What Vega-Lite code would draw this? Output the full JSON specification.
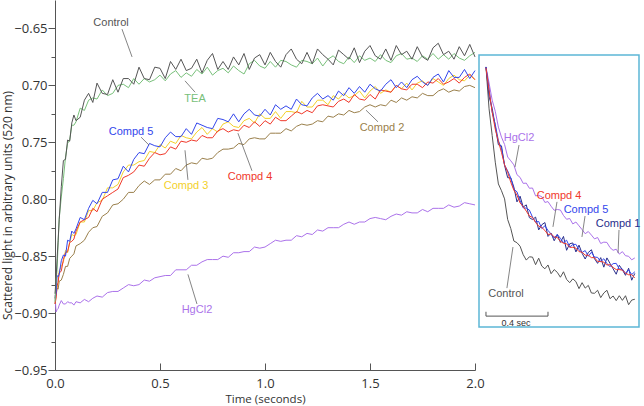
{
  "$schema": "https://vega.github.io/schema/vega-lite/v6.json",
  "width": 584,
  "height": 370,
  "autosize": {"type": "none"},
  "padding": {"left": 55, "top": 0, "right": 5, "bottom": 36},
  "background": "white",
  "config": {"view": {"stroke": null}, "axis": {"grid": false}},
  "datasets": {
    "main": [
      {"t":0,"C":-0.883,"T":-0.890,"P5":-0.887,"P3":-0.887,"P4":-0.892,"P2":-0.892,"Hg":-0.884},
      {"t":0.005,"C":-0.870,"T":-0.871,"P5":-0.883,"P3":-0.881,"P4":-0.887,"P2":-0.884,"Hg":-0.899},
      {"t":0.01,"C":-0.852,"T":-0.862,"P5":-0.867,"P3":-0.877,"P4":-0.876,"P2":-0.878,"Hg":-0.897},
      {"t":0.015,"C":-0.836,"T":-0.838,"P5":-0.868,"P3":-0.873,"P4":-0.873,"P2":-0.879,"Hg":-0.896},
      {"t":0.02,"C":-0.818,"T":-0.817,"P5":-0.866,"P3":-0.863,"P4":-0.865,"P2":-0.872,"Hg":-0.893},
      {"t":0.03,"C":-0.789,"T":-0.798,"P5":-0.854,"P3":-0.859,"P4":-0.863,"P2":-0.871,"Hg":-0.889},
      {"t":0.04,"C":-0.766,"T":-0.782,"P5":-0.849,"P3":-0.855,"P4":-0.853,"P2":-0.866,"Hg":-0.892},
      {"t":0.05,"C":-0.765,"T":-0.763,"P5":-0.850,"P3":-0.845,"P4":-0.847,"P2":-0.859,"Hg":-0.892},
      {"t":0.06,"C":-0.748,"T":-0.751,"P5":-0.836,"P3":-0.847,"P4":-0.846,"P2":-0.859,"Hg":-0.890},
      {"t":0.07,"C":-0.749,"T":-0.748,"P5":-0.837,"P3":-0.838,"P4":-0.838,"P2":-0.852,"Hg":-0.891},
      {"t":0.08,"C":-0.733,"T":-0.735,"P5":-0.828,"P3":-0.831,"P4":-0.837,"P2":-0.850,"Hg":-0.891},
      {"t":0.09,"C":-0.726,"T":-0.735,"P5":-0.830,"P3":-0.832,"P4":-0.835,"P2":-0.848,"Hg":-0.893},
      {"t":0.1,"C":-0.731,"T":-0.732,"P5":-0.826,"P3":-0.831,"P4":-0.828,"P2":-0.841,"Hg":-0.890},
      {"t":0.12,"C":-0.728,"T":-0.720,"P5":-0.816,"P3":-0.820,"P4":-0.820,"P2":-0.839,"Hg":-0.891},
      {"t":0.14,"C":-0.713,"T":-0.722,"P5":-0.818,"P3":-0.820,"P4":-0.818,"P2":-0.836,"Hg":-0.888},
      {"t":0.16,"C":-0.707,"T":-0.713,"P5":-0.808,"P3":-0.810,"P4":-0.816,"P2":-0.829,"Hg":-0.890},
      {"t":0.18,"C":-0.715,"T":-0.711,"P5":-0.801,"P3":-0.810,"P4":-0.808,"P2":-0.825,"Hg":-0.887},
      {"t":0.2,"C":-0.698,"T":-0.712,"P5":-0.804,"P3":-0.803,"P4":-0.811,"P2":-0.824,"Hg":-0.885},
      {"t":0.225,"C":-0.707,"T":-0.704,"P5":-0.794,"P3":-0.801,"P4":-0.800,"P2":-0.815,"Hg":-0.886},
      {"t":0.25,"C":-0.708,"T":-0.709,"P5":-0.794,"P3":-0.790,"P4":-0.797,"P2":-0.812,"Hg":-0.882},
      {"t":0.275,"C":-0.695,"T":-0.707,"P5":-0.783,"P3":-0.790,"P4":-0.794,"P2":-0.805,"Hg":-0.881},
      {"t":0.3,"C":-0.706,"T":-0.700,"P5":-0.782,"P3":-0.787,"P4":-0.791,"P2":-0.804,"Hg":-0.881},
      {"t":0.325,"C":-0.694,"T":-0.699,"P5":-0.771,"P3":-0.776,"P4":-0.781,"P2":-0.800,"Hg":-0.878},
      {"t":0.35,"C":-0.694,"T":-0.702,"P5":-0.776,"P3":-0.770,"P4":-0.779,"P2":-0.794,"Hg":-0.875},
      {"t":0.375,"C":-0.699,"T":-0.694,"P5":-0.765,"P3":-0.770,"P4":-0.776,"P2":-0.794,"Hg":-0.876},
      {"t":0.4,"C":-0.684,"T":-0.699,"P5":-0.759,"P3":-0.767,"P4":-0.770,"P2":-0.788,"Hg":-0.875},
      {"t":0.425,"C":-0.694,"T":-0.694,"P5":-0.760,"P3":-0.766,"P4":-0.771,"P2":-0.784,"Hg":-0.871},
      {"t":0.45,"C":-0.695,"T":-0.697,"P5":-0.751,"P3":-0.758,"P4":-0.764,"P2":-0.787,"Hg":-0.872},
      {"t":0.475,"C":-0.684,"T":-0.695,"P5":-0.753,"P3":-0.759,"P4":-0.759,"P2":-0.783,"Hg":-0.869},
      {"t":0.5,"C":-0.685,"T":-0.691,"P5":-0.754,"P3":-0.752,"P4":-0.761,"P2":-0.783,"Hg":-0.868},
      {"t":0.525,"C":-0.694,"T":-0.696,"P5":-0.746,"P3":-0.755,"P4":-0.760,"P2":-0.778,"Hg":-0.867},
      {"t":0.55,"C":-0.679,"T":-0.690,"P5":-0.741,"P3":-0.749,"P4":-0.754,"P2":-0.778,"Hg":-0.867},
      {"t":0.575,"C":-0.686,"T":-0.687,"P5":-0.745,"P3":-0.751,"P4":-0.756,"P2":-0.773,"Hg":-0.862},
      {"t":0.6,"C":-0.677,"T":-0.693,"P5":-0.745,"P3":-0.744,"P4":-0.749,"P2":-0.775,"Hg":-0.862},
      {"t":0.625,"C":-0.687,"T":-0.689,"P5":-0.738,"P3":-0.746,"P4":-0.750,"P2":-0.770,"Hg":-0.862},
      {"t":0.65,"C":-0.685,"T":-0.692,"P5":-0.743,"P3":-0.747,"P4":-0.748,"P2":-0.768,"Hg":-0.858},
      {"t":0.675,"C":-0.677,"T":-0.686,"P5":-0.733,"P3":-0.741,"P4":-0.749,"P2":-0.769,"Hg":-0.858},
      {"t":0.7,"C":-0.689,"T":-0.690,"P5":-0.735,"P3":-0.737,"P4":-0.744,"P2":-0.764,"Hg":-0.855},
      {"t":0.725,"C":-0.678,"T":-0.684,"P5":-0.737,"P3":-0.743,"P4":-0.746,"P2":-0.765,"Hg":-0.853},
      {"t":0.75,"C":-0.672,"T":-0.691,"P5":-0.738,"P3":-0.738,"P4":-0.746,"P2":-0.764,"Hg":-0.853},
      {"t":0.775,"C":-0.686,"T":-0.687,"P5":-0.729,"P3":-0.741,"P4":-0.740,"P2":-0.759,"Hg":-0.853},
      {"t":0.8,"C":-0.679,"T":-0.685,"P5":-0.730,"P3":-0.734,"P4":-0.738,"P2":-0.756,"Hg":-0.850},
      {"t":0.825,"C":-0.686,"T":-0.689,"P5":-0.732,"P3":-0.732,"P4":-0.741,"P2":-0.756,"Hg":-0.851},
      {"t":0.85,"C":-0.675,"T":-0.683,"P5":-0.725,"P3":-0.736,"P4":-0.739,"P2":-0.755,"Hg":-0.847},
      {"t":0.875,"C":-0.682,"T":-0.687,"P5":-0.732,"P3":-0.737,"P4":-0.740,"P2":-0.751,"Hg":-0.847},
      {"t":0.9,"C":-0.672,"T":-0.690,"P5":-0.725,"P3":-0.731,"P4":-0.735,"P2":-0.752,"Hg":-0.846},
      {"t":0.925,"C":-0.686,"T":-0.681,"P5":-0.721,"P3":-0.729,"P4":-0.737,"P2":-0.747,"Hg":-0.846},
      {"t":0.95,"C":-0.676,"T":-0.678,"P5":-0.726,"P3":-0.733,"P4":-0.732,"P2":-0.746,"Hg":-0.842},
      {"t":0.975,"C":-0.673,"T":-0.683,"P5":-0.727,"P3":-0.725,"P4":-0.736,"P2":-0.747,"Hg":-0.843},
      {"t":1.0,"C":-0.682,"T":-0.685,"P5":-0.721,"P3":-0.729,"P4":-0.731,"P2":-0.747,"Hg":-0.842},
      {"t":1.025,"C":-0.671,"T":-0.679,"P5":-0.726,"P3":-0.729,"P4":-0.734,"P2":-0.742,"Hg":-0.839},
      {"t":1.05,"C":-0.679,"T":-0.684,"P5":-0.717,"P3":-0.723,"P4":-0.728,"P2":-0.742,"Hg":-0.836},
      {"t":1.075,"C":-0.684,"T":-0.678,"P5":-0.721,"P3":-0.729,"P4":-0.731,"P2":-0.742,"Hg":-0.837},
      {"t":1.1,"C":-0.673,"T":-0.679,"P5":-0.718,"P3":-0.723,"P4":-0.731,"P2":-0.738,"Hg":-0.836},
      {"t":1.125,"C":-0.668,"T":-0.682,"P5":-0.721,"P3":-0.723,"P4":-0.727,"P2":-0.740,"Hg":-0.836},
      {"t":1.15,"C":-0.677,"T":-0.684,"P5":-0.712,"P3":-0.724,"P4":-0.723,"P2":-0.736,"Hg":-0.832},
      {"t":1.175,"C":-0.681,"T":-0.678,"P5":-0.717,"P3":-0.714,"P4":-0.725,"P2":-0.734,"Hg":-0.833},
      {"t":1.2,"C":-0.671,"T":-0.679,"P5":-0.718,"P3":-0.719,"P4":-0.722,"P2":-0.735,"Hg":-0.830},
      {"t":1.225,"C":-0.681,"T":-0.681,"P5":-0.711,"P3":-0.719,"P4":-0.724,"P2":-0.734,"Hg":-0.831},
      {"t":1.25,"C":-0.668,"T":-0.676,"P5":-0.707,"P3":-0.713,"P4":-0.718,"P2":-0.731,"Hg":-0.827},
      {"t":1.275,"C":-0.673,"T":-0.683,"P5":-0.712,"P3":-0.713,"P4":-0.717,"P2":-0.732,"Hg":-0.828},
      {"t":1.3,"C":-0.677,"T":-0.677,"P5":-0.709,"P3":-0.717,"P4":-0.718,"P2":-0.727,"Hg":-0.825},
      {"t":1.325,"C":-0.682,"T":-0.674,"P5":-0.713,"P3":-0.709,"P4":-0.719,"P2":-0.728,"Hg":-0.825},
      {"t":1.35,"C":-0.669,"T":-0.679,"P5":-0.705,"P3":-0.712,"P4":-0.714,"P2":-0.725,"Hg":-0.825},
      {"t":1.375,"C":-0.673,"T":-0.681,"P5":-0.709,"P3":-0.707,"P4":-0.712,"P2":-0.726,"Hg":-0.822},
      {"t":1.4,"C":-0.677,"T":-0.675,"P5":-0.702,"P3":-0.711,"P4":-0.715,"P2":-0.722,"Hg":-0.820},
      {"t":1.425,"C":-0.667,"T":-0.680,"P5":-0.707,"P3":-0.709,"P4":-0.708,"P2":-0.724,"Hg":-0.822},
      {"t":1.45,"C":-0.680,"T":-0.674,"P5":-0.701,"P3":-0.705,"P4":-0.712,"P2":-0.723,"Hg":-0.820},
      {"t":1.475,"C":-0.670,"T":-0.678,"P5":-0.706,"P3":-0.711,"P4":-0.713,"P2":-0.719,"Hg":-0.820},
      {"t":1.5,"C":-0.665,"T":-0.676,"P5":-0.699,"P3":-0.705,"P4":-0.708,"P2":-0.717,"Hg":-0.817},
      {"t":1.525,"C":-0.674,"T":-0.679,"P5":-0.703,"P3":-0.701,"P4":-0.712,"P2":-0.719,"Hg":-0.816},
      {"t":1.55,"C":-0.677,"T":-0.673,"P5":-0.705,"P3":-0.707,"P4":-0.704,"P2":-0.717,"Hg":-0.817},
      {"t":1.575,"C":-0.668,"T":-0.678,"P5":-0.699,"P3":-0.704,"P4":-0.705,"P2":-0.718,"Hg":-0.818},
      {"t":1.6,"C":-0.678,"T":-0.680,"P5":-0.695,"P3":-0.706,"P4":-0.706,"P2":-0.713,"Hg":-0.815},
      {"t":1.625,"C":-0.665,"T":-0.674,"P5":-0.702,"P3":-0.700,"P4":-0.700,"P2":-0.715,"Hg":-0.813},
      {"t":1.65,"C":-0.673,"T":-0.672,"P5":-0.697,"P3":-0.703,"P4":-0.703,"P2":-0.711,"Hg":-0.814},
      {"t":1.675,"C":-0.670,"T":-0.677,"P5":-0.702,"P3":-0.698,"P4":-0.704,"P2":-0.713,"Hg":-0.811},
      {"t":1.7,"C":-0.677,"T":-0.676,"P5":-0.695,"P3":-0.704,"P4":-0.699,"P2":-0.710,"Hg":-0.812},
      {"t":1.725,"C":-0.666,"T":-0.679,"P5":-0.692,"P3":-0.698,"P4":-0.699,"P2":-0.711,"Hg":-0.812},
      {"t":1.75,"C":-0.675,"T":-0.674,"P5":-0.697,"P3":-0.696,"P4":-0.702,"P2":-0.707,"Hg":-0.809},
      {"t":1.775,"C":-0.678,"T":-0.677,"P5":-0.700,"P3":-0.700,"P4":-0.697,"P2":-0.709,"Hg":-0.811},
      {"t":1.8,"C":-0.667,"T":-0.672,"P5":-0.693,"P3":-0.694,"P4":-0.698,"P2":-0.709,"Hg":-0.808},
      {"t":1.825,"C":-0.663,"T":-0.677,"P5":-0.690,"P3":-0.697,"P4":-0.694,"P2":-0.705,"Hg":-0.808},
      {"t":1.85,"C":-0.673,"T":-0.673,"P5":-0.697,"P3":-0.700,"P4":-0.699,"P2":-0.703,"Hg":-0.808},
      {"t":1.875,"C":-0.670,"T":-0.677,"P5":-0.687,"P3":-0.694,"P4":-0.697,"P2":-0.706,"Hg":-0.805},
      {"t":1.9,"C":-0.677,"T":-0.672,"P5":-0.693,"P3":-0.691,"P4":-0.694,"P2":-0.704,"Hg":-0.807},
      {"t":1.925,"C":-0.666,"T":-0.676,"P5":-0.693,"P3":-0.695,"P4":-0.698,"P2":-0.705,"Hg":-0.806},
      {"t":1.95,"C":-0.674,"T":-0.678,"P5":-0.686,"P3":-0.696,"P4":-0.693,"P2":-0.701,"Hg":-0.803},
      {"t":1.975,"C":-0.664,"T":-0.674,"P5":-0.694,"P3":-0.691,"P4":-0.690,"P2":-0.700,"Hg":-0.804},
      {"t":2.0,"C":-0.675,"T":-0.671,"P5":-0.687,"P3":-0.695,"P4":-0.695,"P2":-0.702,"Hg":-0.805}
    ],
    "mainLabels": [
      {"k":"C","name":"Control","t":0.267,"v":-0.6453},
      {"k":"T","name":"TEA","t":0.667,"v":-0.712},
      {"k":"P5","name":"Compd 5","t":0.362,"v":-0.741},
      {"k":"P3","name":"Compd 3","t":0.624,"v":-0.7885},
      {"k":"P4","name":"Compd 4","t":0.929,"v":-0.7806},
      {"k":"P2","name":"Compd 2","t":1.557,"v":-0.7376},
      {"k":"Hg","name":"HgCl2","t":0.676,"v":-0.897}
    ],
    "mainArrows": [
      {"t":0.319,"v":-0.6506,"t2":0.367,"v2":-0.675},
      {"t":0.667,"v":-0.706,"t2":0.619,"v2":-0.696},
      {"t":0.41,"v":-0.7455,"t2":0.448,"v2":-0.7525},
      {"t":0.633,"v":-0.783,"t2":0.619,"v2":-0.757},
      {"t":0.938,"v":-0.775,"t2":0.871,"v2":-0.742},
      {"t":1.538,"v":-0.732,"t2":1.481,"v2":-0.7218},
      {"t":0.676,"v":-0.892,"t2":0.633,"v2":-0.866}
    ],
    "inset": [
      {"t":0,"C":0.956,"Hg":0.956,"P1":0.956,"P5":0.956,"P4":0.953},
      {"t":0.02,"C":0.802,"Hg":0.897,"P1":0.847,"P5":0.874,"P4":0.869},
      {"t":0.04,"C":0.704,"Hg":0.834,"P1":0.804,"P5":0.790,"P4":0.790},
      {"t":0.06,"C":0.606,"Hg":0.793,"P1":0.738,"P5":0.745,"P4":0.727},
      {"t":0.08,"C":0.526,"Hg":0.735,"P1":0.670,"P5":0.685,"P4":0.683},
      {"t":0.10,"C":0.501,"Hg":0.698,"P1":0.666,"P5":0.657,"P4":0.642},
      {"t":0.12,"C":0.471,"Hg":0.671,"P1":0.594,"P5":0.595,"P4":0.596},
      {"t":0.14,"C":0.395,"Hg":0.625,"P1":0.549,"P5":0.574,"P4":0.569},
      {"t":0.16,"C":0.362,"Hg":0.611,"P1":0.548,"P5":0.548,"P4":0.532},
      {"t":0.18,"C":0.316,"Hg":0.596,"P1":0.514,"P5":0.506,"P4":0.503},
      {"t":0.20,"C":0.310,"Hg":0.560,"P1":0.460,"P5":0.497,"P4":0.485},
      {"t":0.22,"C":0.297,"Hg":0.550,"P1":0.481,"P5":0.464,"P4":0.456},
      {"t":0.24,"C":0.266,"Hg":0.528,"P1":0.441,"P5":0.438,"P4":0.443},
      {"t":0.26,"C":0.246,"Hg":0.529,"P1":0.449,"P5":0.437,"P4":0.426},
      {"t":0.28,"C":0.258,"Hg":0.510,"P1":0.402,"P5":0.430,"P4":0.408},
      {"t":0.30,"C":0.257,"Hg":0.511,"P1":0.395,"P5":0.404,"P4":0.403},
      {"t":0.32,"C":0.229,"Hg":0.482,"P1":0.404,"P5":0.386,"P4":0.384},
      {"t":0.34,"C":0.253,"Hg":0.484,"P1":0.357,"P5":0.388,"P4":0.371},
      {"t":0.36,"C":0.224,"Hg":0.479,"P1":0.376,"P5":0.362,"P4":0.366},
      {"t":0.38,"C":0.214,"Hg":0.458,"P1":0.384,"P5":0.372,"P4":0.355},
      {"t":0.40,"C":0.228,"Hg":0.461,"P1":0.333,"P5":0.355,"P4":0.340},
      {"t":0.42,"C":0.196,"Hg":0.444,"P1":0.345,"P5":0.342,"P4":0.343},
      {"t":0.44,"C":0.211,"Hg":0.429,"P1":0.317,"P5":0.327,"P4":0.331},
      {"t":0.46,"C":0.201,"Hg":0.432,"P1":0.340,"P5":0.340,"P4":0.329},
      {"t":0.48,"C":0.183,"Hg":0.430,"P1":0.311,"P5":0.326,"P4":0.315},
      {"t":0.50,"C":0.203,"Hg":0.410,"P1":0.333,"P5":0.310,"P4":0.308},
      {"t":0.52,"C":0.175,"Hg":0.396,"P1":0.282,"P5":0.319,"P4":0.306},
      {"t":0.54,"C":0.163,"Hg":0.399,"P1":0.306,"P5":0.294,"P4":0.293},
      {"t":0.56,"C":0.177,"Hg":0.379,"P1":0.309,"P5":0.303,"P4":0.293},
      {"t":0.58,"C":0.167,"Hg":0.386,"P1":0.276,"P5":0.304,"P4":0.290},
      {"t":0.60,"C":0.141,"Hg":0.372,"P1":0.301,"P5":0.284,"P4":0.277},
      {"t":0.62,"C":0.163,"Hg":0.358,"P1":0.271,"P5":0.274,"P4":0.275},
      {"t":0.64,"C":0.143,"Hg":0.343,"P1":0.250,"P5":0.281,"P4":0.264},
      {"t":0.66,"C":0.153,"Hg":0.351,"P1":0.274,"P5":0.260,"P4":0.264},
      {"t":0.68,"C":0.125,"Hg":0.338,"P1":0.284,"P5":0.275,"P4":0.255},
      {"t":0.70,"C":0.124,"Hg":0.324,"P1":0.251,"P5":0.257,"P4":0.255},
      {"t":0.72,"C":0.135,"Hg":0.329,"P1":0.234,"P5":0.256,"P4":0.241},
      {"t":0.74,"C":0.108,"Hg":0.307,"P1":0.255,"P5":0.240,"P4":0.241},
      {"t":0.76,"C":0.125,"Hg":0.312,"P1":0.220,"P5":0.251,"P4":0.238},
      {"t":0.78,"C":0.135,"Hg":0.311,"P1":0.254,"P5":0.233,"P4":0.228},
      {"t":0.80,"C":0.104,"Hg":0.292,"P1":0.234,"P5":0.222,"P4":0.229},
      {"t":0.82,"C":0.114,"Hg":0.282,"P1":0.214,"P5":0.233,"P4":0.219},
      {"t":0.84,"C":0.097,"Hg":0.286,"P1":0.194,"P5":0.234,"P4":0.211},
      {"t":0.86,"C":0.115,"Hg":0.268,"P1":0.227,"P5":0.213,"P4":0.211},
      {"t":0.88,"C":0.098,"Hg":0.277,"P1":0.210,"P5":0.213,"P4":0.209},
      {"t":0.90,"C":0.115,"Hg":0.262,"P1":0.190,"P5":0.197,"P4":0.198},
      {"t":0.92,"C":0.082,"Hg":0.260,"P1":0.216,"P5":0.210,"P4":0.192},
      {"t":0.94,"C":0.099,"Hg":0.247,"P1":0.172,"P5":0.193,"P4":0.192},
      {"t":0.96,"C":0.102,"Hg":0.254,"P1":0.197,"P5":0.203,"P4":0.181}
    ],
    "insetLabels": [
      {"k":"Hg","name":"HgCl2","t":0.213,"v":0.695,"ta":0.213,"va":0.669,"tb":0.187,"vb":0.588},
      {"k":"P4","name":"Compd 4","t":0.471,"v":0.482,"ta":0.458,"va":0.46,"tb":0.432,"vb":0.368},
      {"k":"P5","name":"Compd 5","t":0.645,"v":0.43,"ta":0.639,"va":0.408,"tb":0.619,"vb":0.331},
      {"k":"P1","name":"Compd 1","t":0.852,"v":0.379,"ta":0.858,"va":0.357,"tb":0.852,"vb":0.272},
      {"k":"C","name":"Control","t":0.129,"v":0.121,"ta":0.135,"va":0.143,"tb":0.174,"vb":0.294}
    ],
    "scaleBar": [
      {"ta":0,"tb":0.4,"va":0.04,"vb":0.04},
      {"ta":0,"tb":0,"va":0.04,"vb":0.056},
      {"ta":0.4,"tb":0.4,"va":0.04,"vb":0.056}
    ]
  },
  "resolve": {
    "scale": {"x": "independent", "y": "independent"},
    "axis": {"x": "independent", "y": "independent"}
  },
  "layer": [
    {
      "encoding": {
        "x": {
          "field": "t", "type": "quantitative",
          "scale": {"domain": [0, 2], "range": [0, 420], "nice": false, "zero": false},
          "axis": {
            "values": [0, 0.5, 1, 1.5, 2], "format": ".1f", "title": "Time (seconds)",
            "tickSize": -7, "labelPadding": 14, "titlePadding": 3, "labelFlush": false,
            "domainColor": "#555", "tickColor": "#555", "labelColor": "#333", "titleColor": "#333",
            "labelFont": "Open Sans", "labelFontSize": 13,
            "titleFont": "Open Sans", "titleFontSize": 11.5, "titleFontWeight": "normal"
          }
        },
        "y": {
          "field": "v", "type": "quantitative",
          "scale": {"domain": [-0.95, -0.625], "nice": false, "zero": false},
          "axis": {
            "values": [-0.95, -0.925, -0.9, -0.875, -0.85, -0.825, -0.8, -0.775, -0.75, -0.725, -0.7, -0.675, -0.65],
            "labelExpr": "abs(datum.value*20 - round(datum.value*20)) > 0.25 ? '' : (datum.value > -0.825 && datum.value < -0.675 ? format(-datum.value, '.2f') : format(datum.value, '.2f'))",
            "labelOverlap": false, "labelFlush": false,
            "tickSize": {"condition": {"test": "abs(datum.value*20 - round(datum.value*20)) > 0.25", "value": 4}, "value": 7},
            "labelPadding": 1,
            "title": "Scattered light in arbitrary units (520 nm)",
            "titleX": -41, "titleY": 205,
            "domainColor": "#555", "tickColor": "#555", "labelColor": "#333", "titleColor": "#333",
            "labelFont": "Open Sans", "labelFontSize": 13,
            "titleFont": "Open Sans", "titleFontSize": 12, "titleFontWeight": "normal"
          }
        }
      },
      "layer": [
        {
          "data": {"name": "main"},
          "transform": [{"fold": ["Hg", "P2", "P3", "P4", "P5", "T", "C"], "as": ["k", "v"]}],
          "mark": {"type": "line", "strokeWidth": 1},
          "encoding": {
            "color": {
              "field": "k", "type": "nominal", "legend": null,
              "scale": {"domain": ["C", "T", "P5", "P3", "P4", "P2", "Hg", "P1"], "range": ["#555555", "#78c07a", "#3346ec", "#f3d12b", "#f0392b", "#9a7f4b", "#ab72ea", "#272d8c"]}
            }
          }
        },
        {
          "data": {"name": "mainArrows"},
          "mark": {"type": "rule", "color": "#666", "strokeWidth": 0.8},
          "encoding": {
            "x2": {"field": "t2"},
            "y2": {"field": "v2"}
          }
        },
        {
          "data": {"name": "mainLabels"},
          "mark": {"type": "text", "font": "Liberation Sans", "fontSize": 11, "align": "center", "baseline": "middle"},
          "encoding": {
            "text": {"field": "name"},
            "color": {
              "field": "k", "type": "nominal", "legend": null,
              "scale": {"domain": ["C", "T", "P5", "P3", "P4", "P2", "Hg", "P1"], "range": ["#555555", "#78c07a", "#3346ec", "#f3d12b", "#f0392b", "#9a7f4b", "#ab72ea", "#272d8c"]}
            }
          }
        }
      ]
    },
    {
      "layer": [
        {
          "data": {"values": [{}]},
          "mark": {"type": "rect", "fill": "white", "stroke": "#5cb6d6", "strokeWidth": 1.5},
          "encoding": {
            "x": {"datum": -0.045, "type": "quantitative", "scale": {"domain": [-0.045, 0.987], "range": [424, 584], "nice": false, "zero": false}, "axis": null},
            "x2": {"datum": 0.987},
            "y": {"datum": 0, "type": "quantitative", "scale": {"domain": [0, 1], "range": [327, 55], "nice": false, "zero": false}, "axis": null},
            "y2": {"datum": 1}
          }
        },
        {
          "data": {"name": "inset"},
          "transform": [{"fold": ["C", "Hg", "P1", "P5", "P4"], "as": ["k", "v"]}],
          "mark": {"type": "line", "strokeWidth": 1},
          "encoding": {
            "x": {"field": "t", "type": "quantitative", "scale": {"domain": [-0.045, 0.987], "range": [424, 584], "nice": false, "zero": false}, "axis": null},
            "y": {"field": "v", "type": "quantitative", "scale": {"domain": [0, 1], "range": [327, 55], "nice": false, "zero": false}, "axis": null},
            "color": {
              "field": "k", "type": "nominal", "legend": null,
              "scale": {"domain": ["C", "T", "P5", "P3", "P4", "P2", "Hg", "P1"], "range": ["#555555", "#78c07a", "#3346ec", "#f3d12b", "#f0392b", "#9a7f4b", "#ab72ea", "#272d8c"]}
            }
          }
        },
        {
          "data": {"name": "scaleBar"},
          "mark": {"type": "rule", "color": "#555", "strokeWidth": 1},
          "encoding": {
            "x": {"field": "ta", "type": "quantitative", "scale": {"domain": [-0.045, 0.987], "range": [424, 584], "nice": false, "zero": false}, "axis": null},
            "y": {"field": "va", "type": "quantitative", "scale": {"domain": [0, 1], "range": [327, 55], "nice": false, "zero": false}, "axis": null},
            "x2": {"field": "tb"},
            "y2": {"field": "vb"}
          }
        },
        {
          "data": {"values": [{}]},
          "mark": {"type": "text", "font": "Liberation Sans", "fontSize": 9, "align": "center", "baseline": "middle", "color": "#333"},
          "encoding": {
            "x": {"datum": 0.194, "type": "quantitative", "scale": {"domain": [-0.045, 0.987], "range": [424, 584], "nice": false, "zero": false}, "axis": null},
            "y": {"datum": 0.015, "type": "quantitative", "scale": {"domain": [0, 1], "range": [327, 55], "nice": false, "zero": false}, "axis": null},
            "text": {"value": "0.4 sec"}
          }
        },
        {
          "data": {"name": "insetLabels"},
          "mark": {"type": "rule", "color": "#666", "strokeWidth": 0.8},
          "encoding": {
            "x": {"field": "ta", "type": "quantitative", "scale": {"domain": [-0.045, 0.987], "range": [424, 584], "nice": false, "zero": false}, "axis": null},
            "y": {"field": "va", "type": "quantitative", "scale": {"domain": [0, 1], "range": [327, 55], "nice": false, "zero": false}, "axis": null},
            "x2": {"field": "tb"},
            "y2": {"field": "vb"}
          }
        },
        {
          "data": {"name": "insetLabels"},
          "mark": {"type": "text", "font": "Liberation Sans", "fontSize": 11, "align": "center", "baseline": "middle"},
          "encoding": {
            "x": {"field": "t", "type": "quantitative", "scale": {"domain": [-0.045, 0.987], "range": [424, 584], "nice": false, "zero": false}, "axis": null},
            "y": {"field": "v", "type": "quantitative", "scale": {"domain": [0, 1], "range": [327, 55], "nice": false, "zero": false}, "axis": null},
            "text": {"field": "name"},
            "color": {
              "field": "k", "type": "nominal", "legend": null,
              "scale": {"domain": ["C", "T", "P5", "P3", "P4", "P2", "Hg", "P1"], "range": ["#555555", "#78c07a", "#3346ec", "#f3d12b", "#f0392b", "#9a7f4b", "#ab72ea", "#272d8c"]}
            }
          }
        }
      ]
    }
  ]
}
